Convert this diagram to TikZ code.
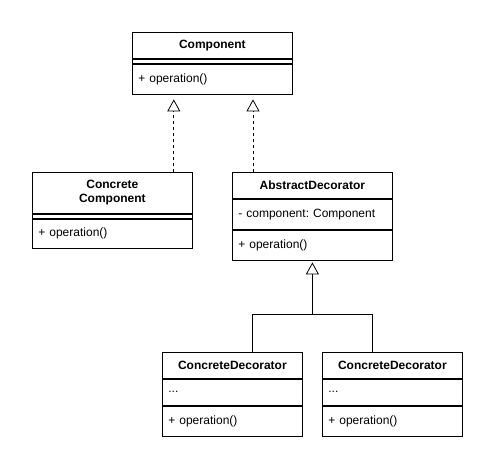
\documentclass[tikz,border=0pt]{standalone}
\usepackage{fontspec}
\setmainfont{Liberation Sans}
\usepackage{tikz}
\usetikzlibrary{arrows.meta}
\usetikzlibrary{positioning}
\frenchspacing

\tikzset{
	classbox/.style={draw, line width=0.8pt, inner sep=0pt, anchor=north west, font=\fontsize{12}{14}\selectfont},
	titlebox/.style={classbox, align=center, font=\fontsize{12}{14}\selectfont\bfseries},
	membox/.style={classbox, align=left, text width=#1, inner xsep=6pt},
	inherit/.style={-{Triangle[open, length=12pt, width=13pt]}, line width=0.8pt},
	realize/.style={inherit, dash pattern=on 3pt off 3pt}
}

\begin{document}
\begin{tikzpicture}[x=1pt, y=-1pt]
	\useasboundingbox (0,0) rectangle (496,470);
	% Component
	\node[titlebox, minimum width=160pt, minimum height=26pt] (comp) at (132,32) {Component};
	\node[membox=148pt, minimum height=4pt, below=0pt of comp] (compattr) {};
	\node[membox=148pt, minimum height=30pt, below=0pt of compattr] (compops) {+ operation()};
	% Concrete Component
	\node[titlebox, minimum width=160pt, minimum height=41pt] (ccomp) at (32,172) {Concrete\\Component};
	\node[membox=148pt, minimum height=4pt, below=0pt of ccomp] (ccompattr) {};
	\node[membox=148pt, minimum height=29pt, below=0pt of ccompattr] (ccompops) {+ operation()};
	% AbstractDecorator
	\node[titlebox, minimum width=160pt, minimum height=26pt] (adec) at (232,172) {AbstractDecorator};
	\node[membox=148pt, minimum height=30pt, below=0pt of adec] (adecattr) {- component: Component};
	\node[membox=148pt, minimum height=30pt, below=0pt of adecattr] (adecops) {+ operation()};
	% ConcreteDecorators
	\node[titlebox, minimum width=140pt, minimum height=26pt] (cdecA) at (162,352) {ConcreteDecorator};
	\node[membox=128pt, minimum height=26pt, below=0pt of cdecA] (cdecAattr) {...};
	\node[membox=128pt, minimum height=30pt, below=0pt of cdecAattr] (cdecAops) {+ operation()};
	\node[titlebox, minimum width=140pt, minimum height=26pt] (cdecB) at (322,352) {ConcreteDecorator};
	\node[membox=128pt, minimum height=26pt, below=0pt of cdecB] (cdecBattr) {...};
	\node[membox=128pt, minimum height=30pt, below=0pt of cdecBattr] (cdecBops) {+ operation()};

	\draw[realize, shorten >=5pt] ([xshift=-19pt]ccomp.north east) -- ([xshift=-19pt]ccomp.north east |- compops.south);
	\draw[realize, shorten >=5pt] ([xshift=21pt]adec.north west) -- ([xshift=21pt]adec.north west |- compops.south);

	\coordinate[yshift=-54pt] (joint) at (adecops.south);
	\draw[line width=0.8pt] ([xshift=20pt]cdecA.north) |- (joint) -| ([xshift=-20pt]cdecB.north);
	\draw[inherit, shorten >=2pt] (joint) -- (adecops.south);
\end{tikzpicture}
\end{document}
